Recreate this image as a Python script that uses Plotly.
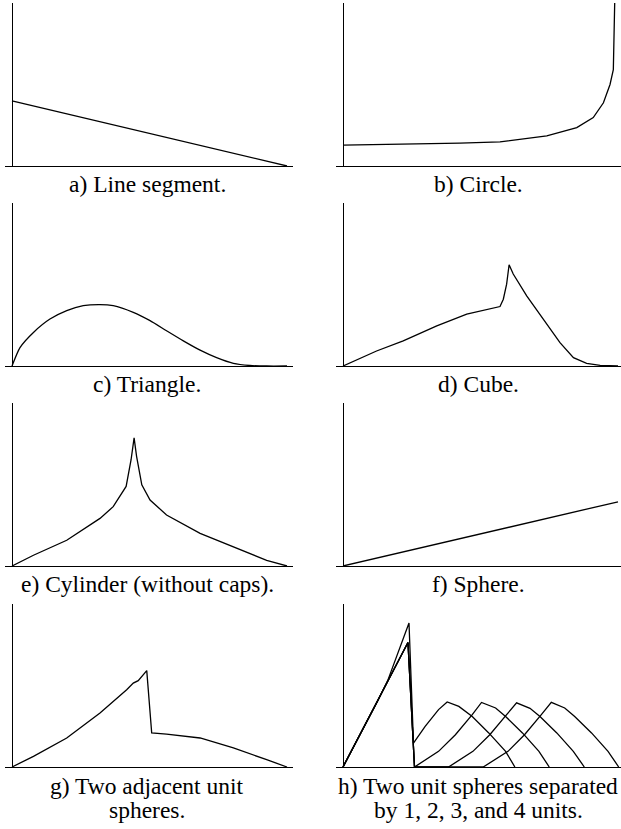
import plotly.graph_objects as go
from plotly.subplots import make_subplots

# ---- data (y relative to panel height) ----
a_x = [0, 0.5, 1.0]
a_y = [0.40, 0.20, 0.0]

b_x = [0, 0.244, 0.425, 0.571, 0.741, 0.850, 0.910, 0.947, 0.971, 0.983, 0.986, 0.988]
b_y = [0.128, 0.134, 0.140, 0.148, 0.185, 0.236, 0.297, 0.388, 0.50, 0.591, 0.754, 1.0]

c_x = [0, 0.029, 0.078, 0.138, 0.199, 0.259, 0.32, 0.368, 0.441, 0.502,
       0.562, 0.623, 0.684, 0.744, 0.805, 0.865, 0.926, 1.0]
c_y = [0, 0.113, 0.206, 0.288, 0.340, 0.370, 0.377, 0.370, 0.329, 0.278,
       0.216, 0.154, 0.097, 0.051, 0.016, 0.003, 0, 0]

d_x = [0, 0.122, 0.219, 0.341, 0.45, 0.522, 0.571, 0.583, 0.595, 0.604,
       0.619, 0.668, 0.728, 0.789, 0.838, 0.886, 0.935, 1.0]
d_y = [0, 0.092, 0.154, 0.246, 0.318, 0.348, 0.365, 0.41, 0.502, 0.621,
       0.564, 0.430, 0.287, 0.143, 0.051, 0.016, 0.004, 0]

e_x = [0, 0.078, 0.199, 0.32, 0.368, 0.415, 0.433, 0.444, 0.453, 0.472,
       0.502, 0.562, 0.684, 0.805, 0.926, 1.0]
e_y = [0, 0.066, 0.158, 0.292, 0.364, 0.488, 0.652, 0.786, 0.673, 0.498,
       0.405, 0.313, 0.2, 0.117, 0.035, 0]

f_x = [0, 1.0]
f_y = [0, 0.394]

g_x = [0, 0.078, 0.199, 0.32, 0.417, 0.441, 0.459, 0.490, 0.508, 0.562,
       0.684, 0.805, 0.926, 1.0]
g_y = [0, 0.065, 0.178, 0.331, 0.474, 0.515, 0.530, 0.591, 0.209, 0.202,
       0.178, 0.117, 0.045, 0]

# panel h: x in units (0..8)
h1_x = [0, 0.5, 1.0, 1.3, 1.64, 1.92, 2.05, 2.39, 2.78, 3.03, 3.37, 3.76, 4.24, 4.73, 5.0]
h1_y = [0, 0.20, 0.40, 0.53, 0.72, 0.883, 0.147, 0.249, 0.352, 0.399, 0.372, 0.31, 0.209, 0.096, 0]
h2_x = [0, 1.89, 2.08, 2.78, 3.27, 3.76, 4.03, 4.44, 4.73, 5.22, 5.70, 6.0]
h2_y = [0, 0.764, 0, 0.096, 0.198, 0.321, 0.396, 0.362, 0.31, 0.209, 0.096, 0]
h3_x = [0, 1.89, 2.08, 3.07, 3.78, 4.27, 4.76, 5.05, 5.44, 5.73, 6.22, 6.70, 7.02]
h3_y = [0, 0.764, 0, 0, 0.096, 0.198, 0.321, 0.394, 0.36, 0.31, 0.209, 0.096, 0]
h4_x = [0, 1.89, 2.08, 4.08, 4.8, 5.28, 5.77, 6.06, 6.45, 6.74, 7.23, 7.71, 8.02]
h4_y = [0, 0.764, 0, 0, 0.096, 0.198, 0.321, 0.397, 0.362, 0.31, 0.209, 0.096, 0]

captions = [
    ["a) Line segment."], ["b) Circle."],
    ["c) Triangle."], ["d) Cube."],
    ["e) Cylinder (without caps)."], ["f) Sphere."],
    ["g) Two adjacent unit", "spheres."],
    ["h) Two unit spheres separated", "by 1, 2, 3, and 4 units."],
]

# ---- layout in pixels ----
W, H = 621, 829
col_px = [(5, 293, 12, 287), (336, 621, 343, 618)]  # domain l, r, data0, data1
row_px = [(3, 166), (203, 366), (403, 566), (604, 767)]
cap_mid = [[183.9], [383.9], [583.9], [786.2, 810.2]]
cap_cx = [147, 478]
serif = "Times New Roman, Liberation Serif, DejaVu Serif, serif"

fig = make_subplots(rows=4, cols=2)

panels = [
    [(a_x, a_y, "linear")], [(b_x, b_y, "linear")],
    [(c_x, c_y, "spline")], [(d_x, d_y, "linear")],
    [(e_x, e_y, "linear")], [(f_x, f_y, "linear")],
    [(g_x, g_y, "linear")],
    [(h1_x, h1_y, "linear"), (h2_x, h2_y, "linear"),
     (h3_x, h3_y, "linear"), (h4_x, h4_y, "linear")],
]

for k, series in enumerate(panels):
    r, c = k // 2, k % 2
    for xs, ys, shape in series:
        fig.add_trace(
            go.Scatter(x=xs, y=ys, mode="lines",
                       line=dict(color="black", width=1.3, shape=shape, smoothing=0.6),
                       cliponaxis=True, hoverinfo="skip"),
            row=r + 1, col=c + 1,
        )
    dl, dr, p0, p1 = col_px[c]
    xmax = 8.0 if k == 7 else 1.0
    scale = (p1 - p0) / xmax
    xr = [-(p0 - dl) / scale, xmax + (dr - p1) / scale]
    top, bot = row_px[r]
    fig.update_xaxes(domain=[dl / W, dr / W], range=xr,
                     showgrid=False, showticklabels=False, ticks="",
                     zeroline=True, zerolinecolor="black", zerolinewidth=1,
                     showline=True, linecolor="black", linewidth=1,
                     row=r + 1, col=c + 1)
    fig.update_yaxes(domain=[1 - bot / H, 1 - top / H], range=[0, 1],
                     showgrid=False, showticklabels=False, ticks="",
                     zeroline=False, showline=False,
                     row=r + 1, col=c + 1)
    for line, ym in zip(captions[k], cap_mid[r]):
        fig.add_annotation(text=line, x=cap_cx[c] / W, y=1 - ym / H,
                           xref="paper", yref="paper", showarrow=False,
                           xanchor="center", yanchor="middle",
                           font=dict(family=serif, size=23.5, color="black"))

fig.update_layout(width=W, height=H, margin=dict(l=0, r=0, t=0, b=0),
                  font=dict(family=serif),
                  showlegend=False, plot_bgcolor="white", paper_bgcolor="white")
# the page body has a default 8px margin; remove it so the figure fills the window
fig.write_html("out.html", config={"displayModeBar": False},
               post_script="document.body.style.margin='0';")
